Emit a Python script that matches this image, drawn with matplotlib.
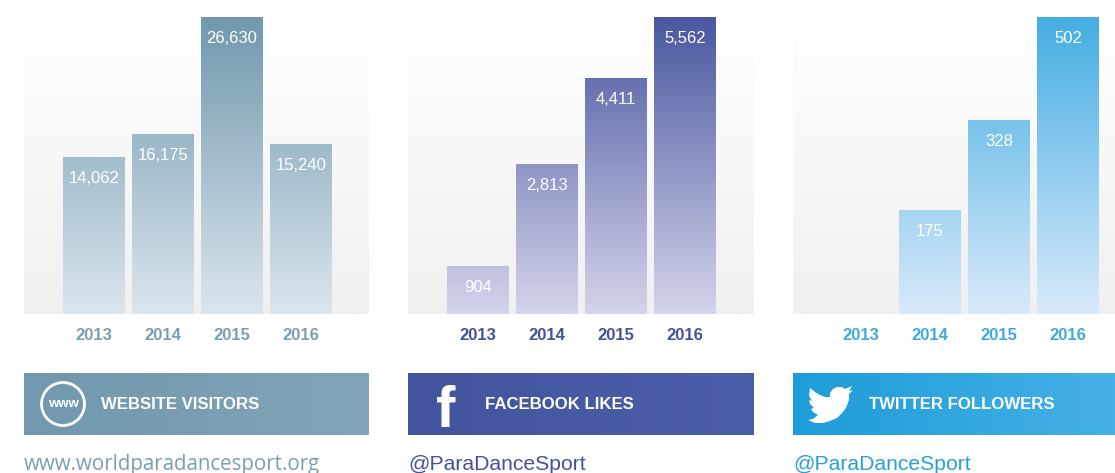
import numpy as np
import matplotlib
matplotlib.use('Agg')
import matplotlib.pyplot as plt
from matplotlib.colors import LinearSegmentedColormap
from matplotlib.patches import Circle, PathPatch
from matplotlib.path import Path

years = ['2013', '2014', '2015', '2016']
website_values = [14062, 16175, 26630, 15240]
facebook_values = [904, 2813, 4411, 5562]
twitter_values = [0, 175, 328, 502]

titles = ['WEBSITE VISITORS', 'FACEBOOK LIKES', 'TWITTER FOLLOWERS']
links = ['www.worldparadancesport.org', '@ParaDanceSport', '@ParaDanceSport']

W, H = 1115, 473
SANS = 'Liberation Sans'

fig = plt.figure(figsize=(W / 100, H / 100), dpi=100, facecolor='white')


def px_axes(left, top, right, bottom):
    return fig.add_axes([left / W, 1 - bottom / H, (right - left) / W, (bottom - top) / H])


def gradient(c1, c2):
    return LinearSegmentedColormap.from_list('g', [c1, c2])


def draw_panel(left, right, first_center, values, top_col, bot_col, year_col):
    ax = px_axes(left, 17, right, 314)
    # one px in x = 1/69 of a bar slot
    x0 = (left - first_center) / 69
    x1 = (right - first_center) / 69
    ymax = max(values)
    ax.set_xlim(x0, x1)
    ax.set_ylim(0, ymax)
    ax.imshow(np.linspace(0, 1, 256).reshape(-1, 1), cmap=gradient('#ffffff', '#f0f0f0'),
              extent=[x0, x1, 0, ymax], aspect='auto', origin='upper', zorder=0)
    for i, v in enumerate(values):
        if v == 0:
            continue
        bar = ax.bar(i, v, width=0.89, color='none', linewidth=0, zorder=1)[0]
        im = ax.imshow(np.linspace(0, 1, 256).reshape(-1, 1), cmap=gradient(top_col, bot_col),
                       extent=[x0, x1, 0, ymax], aspect='auto', origin='upper', zorder=2)
        im.set_clip_path(bar)
        ax.annotate(f'{v:,}', (i, v), xytext=(0, -21.5 * 0.72), textcoords='offset points',
                    ha='center', va='center', color='white', fontsize=12,
                    family=SANS, zorder=3)
    ax.set_xlim(x0, x1)
    ax.set_ylim(0, ymax)
    ax.set_xticks(range(4))
    ax.set_xticklabels(years, fontsize=12, fontweight='bold', color=year_col, family=SANS)
    ax.tick_params(axis='x', length=0, pad=10)
    ax.set_yticks([])
    for s in ax.spines.values():
        s.set_visible(False)


def draw_header(left, right, c1, c2, title, link, link_col, title_x):
    ax = px_axes(left, 373, right, 435)
    ax.imshow(np.linspace(0, 1, 256).reshape(1, -1), cmap=gradient(c1, c2),
              extent=[0, 1, 0, 1], aspect='auto')
    ax.axis('off')
    over.text(title_x, 404, title, color='white', fontsize=12.1, fontweight='bold',
              family=SANS, ha='left', va='center')
    over.text(left, 464, link, color=link_col, fontsize=15.2 if link[0] == '@' else 14.8,
              family=SANS if link[0] == '@' else 'Open Sans', ha='left', va='center')


draw_panel(24, 369, 94, website_values, '#7098ad', '#dbe6ee', '#7b9db2')
draw_panel(408, 754, 478, facebook_values, '#4a57a0', '#d4d4ea', '#45519b')
draw_panel(793, 1115, 861, twitter_values, '#45ade3', '#d9eafa', '#3fa9df')

# overlay in pixel coordinates for header icons and text
over = fig.add_axes([0, 0, 1, 1], zorder=5)
over.set_xlim(0, W)
over.set_ylim(H, 0)
over.axis('off')

draw_header(24, 369, '#7198ad', '#82a4b8', titles[0], links[0], '#7b9db2', 101)
draw_header(408, 754, '#43549e', '#4b5fa8', titles[1], links[1], '#45519b', 485)
draw_header(793, 1115, '#1d9dd8', '#46b0e6', titles[2], links[2], '#2a9fd9', 869)

# www icon
over.add_patch(Circle((63, 404), 21.5, fill=False, ec='white', lw=2))
over.text(63, 404, 'www', color='white', fontsize=9.5, fontweight='bold', family=SANS,
          ha='center', va='center')

# facebook f
over.text(446, 427, 'f', color='white', fontsize=42, fontweight='bold', family=SANS,
          ha='center', va='baseline')

# twitter bird
bird = [(810, 388), (815, 392), (820, 395), (825, 397), (830, 397), (830, 393), (833, 389),
        (837, 387), (842, 387), (845, 389), (852, 386), (849, 391), (853, 390), (849, 394),
        (849, 400), (846, 408), (842, 413), (837, 418), (830, 421), (823, 423), (815, 423),
        (808, 420), (813, 419), (818, 415), (813, 412), (811, 409), (814, 408), (810, 404),
        (809, 400), (812, 401), (809, 396), (810, 388)]
codes = [Path.MOVETO] + [Path.LINETO] * (len(bird) - 2) + [Path.CLOSEPOLY]
over.add_patch(PathPatch(Path(bird, codes), fc='white', ec='none'))

fig.savefig('out.png', dpi=100)
